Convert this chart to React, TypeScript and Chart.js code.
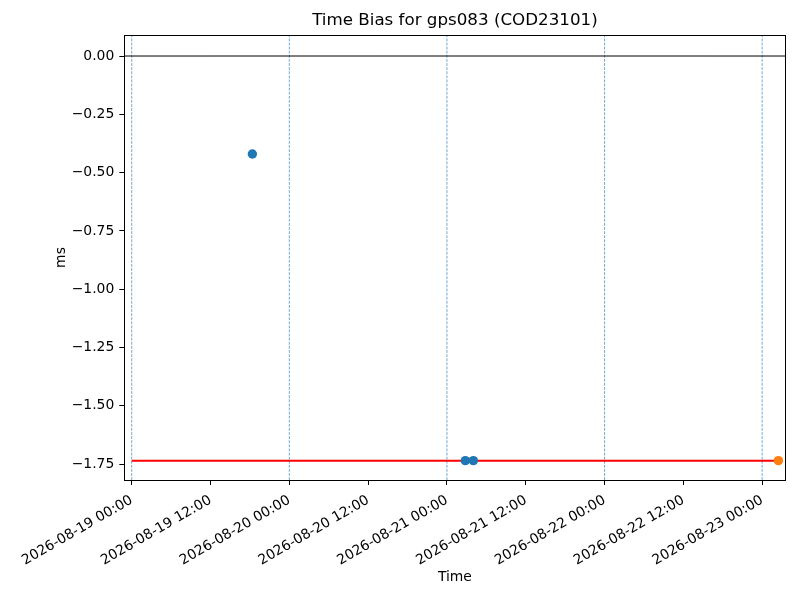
import React, { useEffect, useRef } from "react";
import { Chart, registerables } from "chart.js";

Chart.register(...registerables);

const H = 3600 * 1000;
const T0 = Date.UTC(2026, 7, 19, 0, 0);

// Data
const titleText = "Time Bias for gps083 (COD23101)";
const blueTimes = [T0 + 18.37 * H, T0 + 50.8 * H, T0 + 52.02 * H];
const blueValues = [-0.42, -1.735, -1.735];
const orangeTimes = [T0 + 98.47 * H];
const orangeValues = [-1.735];
const refLineTimes = [T0, T0 + 98.47 * H];
const refLineValues = [-1.735, -1.735];
const dayLines = [T0, T0 + 24 * H, T0 + 48 * H, T0 + 72 * H, T0 + 96 * H];
const xTickValues = [0, 12, 24, 36, 48, 60, 72, 84, 96].map((h) => T0 + h * H);
const yTickValues = [0, -0.25, -0.5, -0.75, -1.0, -1.25, -1.5, -1.75];
const X_MIN = T0 - 0.047 * 24 * H;
const X_MAX = T0 + 4.148 * 24 * H;
const Y_MIN = -1.818;
const Y_MAX = 0.09;

const pad2 = (n: number) => String(n).padStart(2, "0");
const fmtDate = (v: number) => {
  const d = new Date(v);
  return `${d.getUTCFullYear()}-${pad2(d.getUTCMonth() + 1)}-${pad2(d.getUTCDate())} ${pad2(
    d.getUTCHours()
  )}:${pad2(d.getUTCMinutes())}`;
};
const fmtY = (v: number) => {
  const s = Math.abs(v).toFixed(2);
  return v < -1e-9 ? "\u2212" + s : s;
};

const FONT = "'DejaVu Sans', sans-serif";

const framePlugin = {
  id: "frame",
  afterDatasetsDraw(chart: any) {
    const { ctx, chartArea } = chart;
    ctx.save();
    ctx.strokeStyle = "#000";
    ctx.lineWidth = 1;
    ctx.strokeRect(
      Math.round(chartArea.left) + 0.5,
      Math.round(chartArea.top) + 0.5,
      Math.round(chartArea.right - chartArea.left),
      Math.round(chartArea.bottom - chartArea.top)
    );
    ctx.restore();
  },
};

export default function App() {
  const ref = useRef<HTMLCanvasElement>(null);
  useEffect(() => {
    document.body.style.margin = "0";
    const canvas = ref.current!;
    const vlineSets = dayLines.map((t) => ({
      type: "line" as const,
      data: [
        { x: t, y: Y_MIN },
        { x: t, y: Y_MAX },
      ],
      borderColor: "rgba(31,119,180,0.8)",
      borderWidth: 0.8,
      borderDash: [2.8, 1.3],
      pointRadius: 0,
      order: 4,
    }));
    const chart = new Chart(canvas, {
      type: "line",
      data: {
        datasets: [
          ...vlineSets,
          {
            type: "line",
            data: [
              { x: X_MIN, y: 0 },
              { x: X_MAX, y: 0 },
            ],
            borderColor: "#000",
            borderWidth: 1,
            pointRadius: 0,
            order: 3,
          },
          {
            type: "line",
            data: refLineTimes.map((t, i) => ({ x: t, y: refLineValues[i] })),
            borderColor: "#ff0000",
            borderWidth: 2,
            pointRadius: 0,
            order: 2,
          },
          {
            type: "line",
            data: blueTimes.map((t, i) => ({ x: t, y: blueValues[i] })),
            showLine: false,
            pointRadius: 4.7,
            pointBackgroundColor: "#1f77b4",
            pointBorderWidth: 0,
            borderColor: "#1f77b4",
            order: 1,
          },
          {
            type: "line",
            data: orangeTimes.map((t, i) => ({ x: t, y: orangeValues[i] })),
            showLine: false,
            pointRadius: 4.7,
            pointBackgroundColor: "#ff7f0e",
            pointBorderWidth: 0,
            borderColor: "#ff7f0e",
            order: 0,
          },
        ] as any,
      },
      options: {
        responsive: false,
        animation: false,
        devicePixelRatio: 1,
        layout: { padding: { left: 0, right: 14.5, top: 0, bottom: 0 } },
        plugins: {
          legend: { display: false },
          tooltip: { enabled: false },
          title: {
            display: true,
            fullSize: false,
            text: titleText,
            color: "#000",
            font: { family: FONT, size: 16.7, weight: "normal", lineHeight: 1.2 },
            padding: { top: 11, bottom: 4 },
          },
        },
        scales: {
          x: {
            type: "linear",
            min: X_MIN,
            max: X_MAX,
            afterBuildTicks: (s: any) => {
              s.ticks = xTickValues.map((v) => ({ value: v }));
            },
            afterFit: (s: any) => {
              s.height = 120;
            },
            grid: {
              drawOnChartArea: false,
              drawTicks: true,
              tickLength: 5,
              color: "#000",
              lineWidth: 1,
            },
            border: { display: false },
            ticks: {
              minRotation: 30,
              maxRotation: 30,
              autoSkip: false,
              padding: 7,
              color: "#000",
              font: { family: FONT, size: 13.9 },
              callback: (v: any) => fmtDate(Number(v)),
            },
            title: {
              display: true,
              text: "Time",
              color: "#000",
              font: { family: FONT, size: 13.9, lineHeight: 1.2 },
              padding: { top: 0, bottom: 14.7 },
            },
          },
          y: {
            type: "linear",
            min: Y_MIN,
            max: Y_MAX,
            afterBuildTicks: (s: any) => {
              s.ticks = yTickValues.map((v) => ({ value: v }));
            },
            afterFit: (s: any) => {
              s.width = 124.3;
            },
            grid: {
              drawOnChartArea: false,
              drawTicks: true,
              tickLength: 5,
              color: "#000",
              lineWidth: 1,
            },
            border: { display: false },
            ticks: {
              padding: 5,
              color: "#000",
              font: { family: FONT, size: 13.9 },
              callback: (v: any) => fmtY(Number(v)),
            },
            title: {
              display: true,
              text: "ms",
              color: "#000",
              font: { family: FONT, size: 13.9, lineHeight: 1.2 },
              padding: { top: 52.7, bottom: 0 },
            },
          },
        },
      },
      plugins: [framePlugin],
    });
    return () => chart.destroy();
  }, []);
  return (
    <div style={{ width: 800, height: 600 }}>
      <canvas ref={ref} width={800} height={600} style={{ display: "block" }} />
    </div>
  );
}
